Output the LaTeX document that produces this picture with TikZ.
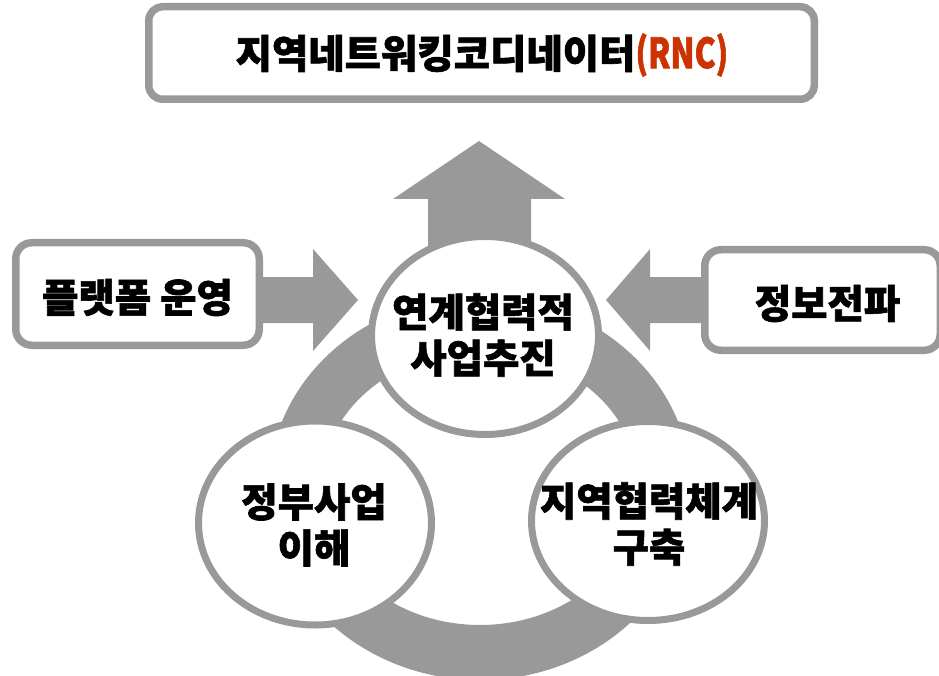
\documentclass[tikz,border=0pt]{standalone}
\usepackage{graphicx}
\usepackage{fontspec}
\setmainfont{Noto Sans CJK KR}[BoldFeatures={FakeBold=1.6}]
\usetikzlibrary{shapes.geometric}
\definecolor{gry}{RGB}{153,153,153}
\definecolor{rnc}{RGB}{204,51,0}
\begin{document}
\begin{tikzpicture}[x=1pt,y=-1pt,
  rbox/.style={draw=gry, line width=7.5pt, fill=white, rounded corners=14pt, inner sep=0pt},
  bub/.style={ellipse, draw=gry, line width=7pt, fill=white, inner sep=0pt},
  lbl/.style={font=\fontsize{39.5}{46}\selectfont\bfseries, align=center, inner sep=0pt},
  blk/.style={fill=gry}]
\useasboundingbox[fill=white] (0,0) rectangle (939,676);
% ring
\fill[gry, even odd rule] (480,488) ellipse [x radius=211pt, y radius=192pt]
                          (480,488) ellipse [x radius=159pt, y radius=137pt];
% block arrows
\fill[blk] (428,275) -- (428,199) -- (393,199) -- (479,141) -- (565,199) -- (531,199) -- (531,275) -- cycle;
\fill[blk] (250,277) -- (313,277) -- (313,249) -- (358,300) -- (313,351) -- (313,323) -- (250,323) -- cycle;
\fill[blk] (715,277) -- (650,277) -- (650,249) -- (606,300) -- (650,351) -- (650,323) -- (715,323) -- cycle;
% boxes
\node[rbox, minimum width=665.5pt, minimum height=92.5pt] (T) at (481.5,53) {};
\node[font=\fontsize{39.5}{42}\selectfont\bfseries, inner sep=0pt] (Tt) at (482,55)
  {지역네트워킹코디네이터\textcolor{rnc}{\scalebox{0.8}[1.05]{(RNC)}}};
\node[rbox, rounded corners=16pt, minimum width=243.5pt, minimum height=102.5pt] (L) at (137.5,294) {};
\node[lbl] (Lt) at (137.5,297.5) {플랫폼 운영};
\node[rbox, rounded corners=16pt, minimum width=235.5pt, minimum height=100.5pt] (R) at (822.5,300) {};
\node[lbl] (Rt) at (827.5,303.5) {정보전파};
% bubbles
\node[bub, minimum width=227pt, minimum height=198pt] (C1) at (485,335.5) {};
\node[bub, minimum width=233pt, minimum height=204pt] (C2) at (315,523) {};
\node[bub, minimum width=233pt, minimum height=199pt] (C3) at (648,521) {};
\node[lbl] (C1t) at (483,335) {연계협력적\\사업추진};
\node[lbl] (C2t) at (314,525) {정부사업\\이해};
\node[lbl] (C3t) at (649,524) {지역협력체계\\구축};
\end{tikzpicture}
\end{document}
